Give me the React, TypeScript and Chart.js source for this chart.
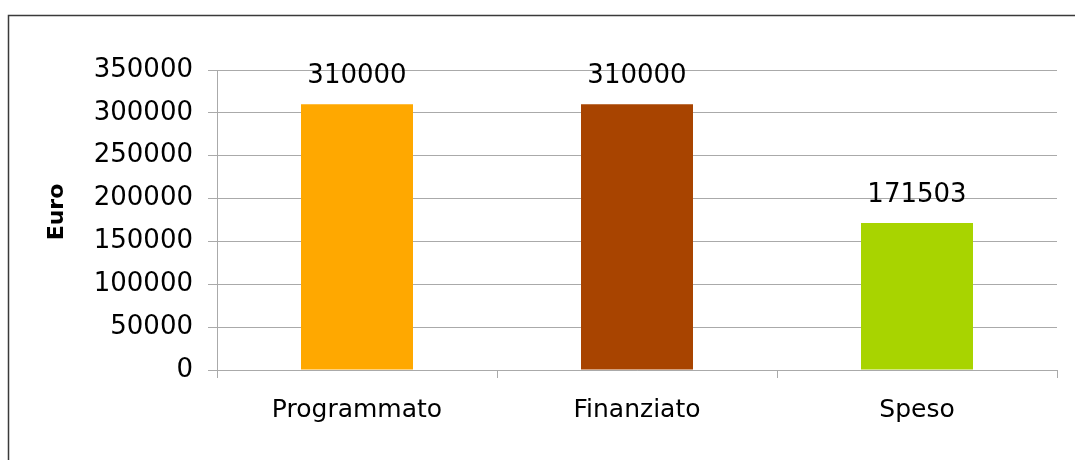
import React, { useEffect, useRef } from "react";
import { Chart, registerables } from "chart.js";

Chart.register(...registerables);

const categories = ["Programmato", "Finanziato", "Speso"];
const values = [310000, 310000, 171503];
const barColors = ["#FFA800", "#A84400", "#A8D400"];
const yTicks = [0, 50000, 100000, 150000, 200000, 250000, 300000, 350000];
const yTitle = "Euro";

const FONT = "'DejaVu Sans', sans-serif";

const framePlugin = {
  id: "frame",
  beforeDraw(chart: any) {
    const ctx = chart.ctx;
    ctx.save();
    ctx.fillStyle = "#ffffff";
    ctx.fillRect(0, 0, chart.width, chart.height);
    ctx.strokeStyle = "#3a3a3a";
    ctx.lineWidth = 1.5;
    ctx.strokeRect(8.5, 15.5, 1200, 600);
    ctx.restore();
  },
  afterDraw(chart: any) {
    const ctx = chart.ctx;
    ctx.save();
    const meta = chart.getDatasetMeta(0);
    ctx.fillStyle = "#000";
    ctx.font = `26px ${FONT}`;
    ctx.textAlign = "center";
    ctx.textBaseline = "middle";
    meta.data.forEach((bar: any, i: number) => {
      ctx.fillText(String(values[i]), bar.x, bar.y - 28);
    });
    ctx.font = `bold 22px ${FONT}`;
    ctx.translate(57, 212);
    ctx.rotate(-Math.PI / 2);
    ctx.fillText(yTitle, 0, 0);
    ctx.restore();
  },
};

export default function App() {
  const ref = useRef<HTMLCanvasElement>(null);
  useEffect(() => {
    if (!ref.current) return;
    const chart = new Chart(ref.current, {
      type: "bar",
      data: {
        labels: categories,
        datasets: [
          {
            data: values,
            backgroundColor: barColors,
            barPercentage: 0.4,
            categoryPercentage: 1,
          },
        ],
      },
      options: {
        responsive: false,
        animation: false,
        devicePixelRatio: 1,
        layout: { padding: { left: 0, top: 70, right: 18, bottom: 0 } },
        plugins: { legend: { display: false }, tooltip: { enabled: false } },
        scales: {
          x: {
            offset: true,
            grid: {
              offset: true,
              drawOnChartArea: false,
              drawTicks: true,
              tickLength: 8,
              color: "#aaaaaa",
            },
            border: { color: "#aaaaaa" },
            ticks: {
              color: "#000",
              font: { family: FONT, size: 25 },
              padding: 17,
            },
            afterFit: (s: any) => {
              s.height = 90;
            },
          },
          y: {
            min: 0,
            max: 350000,
            afterBuildTicks: (s: any) => {
              s.ticks = yTicks.map((v) => ({ value: v }));
            },
            grid: { color: "#aaaaaa", tickLength: 9 },
            border: { color: "#aaaaaa" },
            ticks: {
              color: "#000",
              font: { family: FONT, size: 26 },
              padding: 15,
              callback: (v: any) => String(v),
            },
            afterFit: (s: any) => {
              s.width = 217;
            },
          },
        },
      },
      plugins: [framePlugin],
    });
    return () => chart.destroy();
  }, []);
  return (
    <div style={{ position: "absolute", left: 0, top: 0, width: 1075, height: 460 }}>
      <canvas ref={ref} width={1075} height={460} style={{ display: "block" }} />
    </div>
  );
}
